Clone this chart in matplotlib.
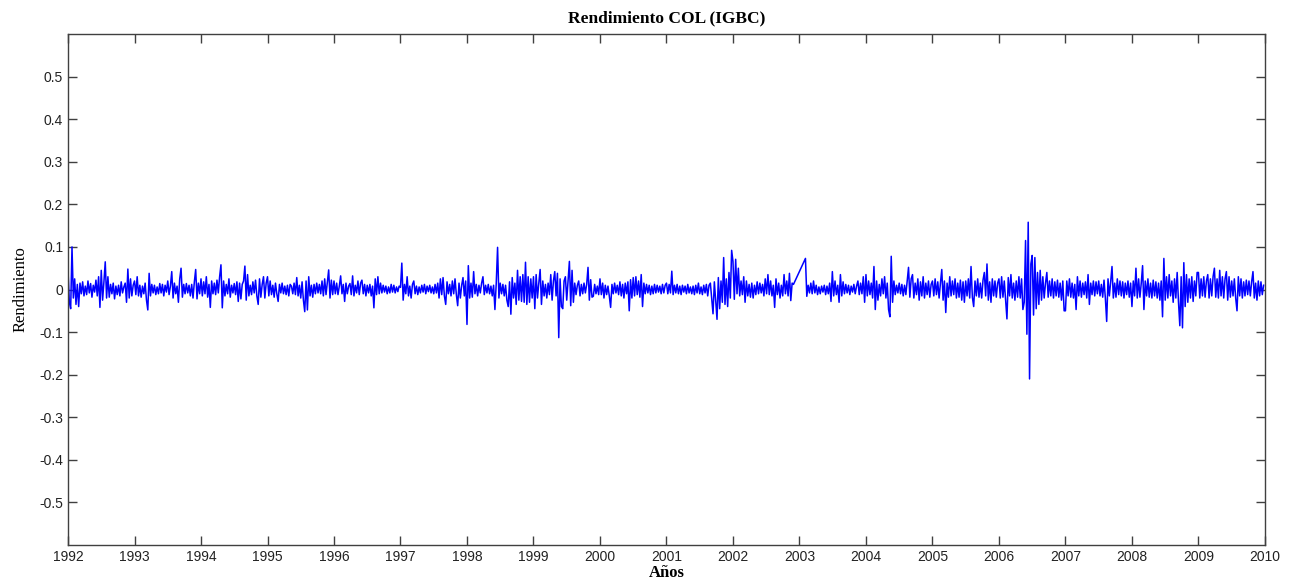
import numpy as np
import matplotlib
matplotlib.use("Agg")
import matplotlib.pyplot as plt
from matplotlib.ticker import FuncFormatter

# daily returns, in thousandths (one list per year)
r1992 = [45, -30, -45, 100, -20, 25, -35, 12, -40, 15, -10, 18, -15, 8, -12, 20, -8, 14, -18, 10,
         -6, 22, -15, 30, -42, 45, -25, 18, 65, -20, 30, -18, 12, -10, 15, -22, 8, -12, 10, -15,
         18, -8, 6, 15, -30, 48, -20, 25, -15, 10]
r1993 = [20, -12, 30, -15, 10, -18, 8, -10, 15, -25, -48, 38, -15, 12, -8, 10, -12, 6, -10, 14,
         -8, 12, -15, 10, -6, 20, -12, 8, 42, -20, 15, -10, 8, -30, 25, 50, -18, 12, -10, 14,
         -8, 10, -15, 12, -20, 18, 47, -22, 15, -10]
r1994 = [25, -15, 18, -10, 30, -18, 12, -42, 20, -10, 15, -12, 22, -8, 30, 58, -43, 20, -15, 12,
         -10, 25, -18, 10, -8, 14, -12, 18, -28, 15, -22, 12, 20, 55, -25, 35, -15, 10, -12, 18,
         -8, 22, -15, -35, 25, -18, 12, 30, -20, 15]
r1995 = [30, -15, 20, -12, 10, -18, 15, -10, -28, 12, -8, 15, -10, 8, -12, 10, -15, 12, 8, -10,
         15, -12, 28, -15, 10, -20, 18, -25, -52, 20, -48, 30, -15, 10, -18, 12, -10, 15, -8, 12,
         -10, 20, -15, 25, -12, 18, 46, -20, 22, -12]
r1996 = [20, -10, 15, -12, 8, 32, -10, 12, -28, 15, -10, 8, 14, -12, 32, -15, 10, -8, 20, -12,
         15, 22, -10, 12, -15, 10, -8, 12, -15, 8, -43, 25, -12, 30, -10, 15, -8, 10, -6, 8,
         -10, 6, -8, 12, -6, 10, -8, 6, -5, 8]
r1997 = [5, 62, -25, 12, -10, 30, -15, 8, -20, 12, 20, -10, 8, -12, 6, -8, 10, -6, 12, -10,
         8, -5, 10, -8, 6, -10, 12, -8, 15, -20, 25, -12, 28, -15, -35, 18, -10, 12, -15, 20,
         -10, 25, -12, -38, 15, -20, 10, 28, -15, 20]
r1998 = [-82, 56, -20, 15, -18, 42, -10, 12, -15, 10, -8, 15, 30, -12, 10, -8, 12, -10, 8, -15,
         10, -47, 15, 99, -20, 15, -10, 12, -15, 10, -25, -40, 18, -58, 28, -20, 15, -35, 45, -25,
         30, -28, 35, -30, 64, -35, 30, -30, 25, -20]
r1999 = [30, -45, 35, -20, 15, 47, -35, 20, -15, 12, -20, 15, -12, 35, -25, 20, 42, -15, 38, -113,
         25, -40, -45, 20, 30, -25, 20, 66, -38, 45, -30, 15, -12, 10, 20, -15, 12, -10, 15, -8,
         12, 52, -25, 23, -18, -16, 12, -10, 8, -12]
r2000 = [25, -12, 15, -20, 10, -12, 8, -15, -42, 12, -10, 15, -8, 10, -12, 18, -15, 12, -20, 15,
         -10, 18, -50, 23, -20, 28, -15, 30, -12, 20, -18, 35, -40, 15, -10, 12, -8, 10, -12, 8,
         -10, 12, -8, 10, -6, 8, -10, 12, -8, 10]
r2001 = [15, -10, 12, -8, 43, -12, 10, -8, 12, -10, 8, -12, 10, -6, 8, -10, 12, -8, 6, -10,
         8, -12, 10, -8, 15, -10, 6, -12, 10, -8, 12, -15, 10, 15, -20, -57, 18, -25, -70, 28,
         -45, 20, -30, 75, -35, 25, -40, 40, -20, 92]
r2002 = [66, -23, 71, -10, 50, -15, 20, -12, 30, -30, 20, -15, 12, -18, 15, -20, 10, -12, 18, -10,
         15, -8, 12, -15, 25, -10, 35, -12, 20, -15, 10, -42, 25, -12, 15, -20, 10, -15, 35, -10,
         20, -15, 38, -26, 15, 12]
r2003 = [73, -16, 10, -8, 15, -10, 20, -8, 10, -12, 6, -10, 8, -6, 10, -12, 8, -10, 15, -28,
         42, -15, 20, -12, 10, -30, 35, -15, 18, -10, 12, -8, 10, -12, 8, -6, 12, -10, 8, 20,
         -12, 15, -10, 30, -30]
r2004 = [35, -15, 20, -12, 15, -20, 54, -47, 20, -25, 12, -15, 25, -10, 30, -20, 15, -47, -64, 78,
         -30, 20, -12, 10, -8, 15, -10, 12, -15, 10, -12, 20, 52, -18, 25, 35, -20, 15, -12, 25,
         -25, 18, -15, 30, -20, 15, -12, 20, -18, 12]
r2005 = [20, -15, 25, -12, 18, -20, 15, 47, -25, 20, -54, 15, -18, 30, -15, 20, -12, 25, -20, 15,
         -18, 22, -25, 18, -30, 20, -15, 25, -20, 54, -18, -40, 20, -15, 25, -18, 15, -20, 22, 40,
         -15, 60, -25, 18, -30, 25, -15, 20, -18, 15]
r2006 = [25, -20, 30, -18, 20, -25, -69, 28, -15, 35, -20, 15, -25, 20, -18, 30, -20, 25, -47, -30,
         115, -105, 158, -210, 60, 80, -60, 75, -45, 40, -35, 45, -25, 30, -20, 15, 40, -18, 20, -15,
         25, -20, 18, -15, 22, -18, 15, -25, 20, -50]
r2007 = [-50, 20, -15, 25, -18, 15, -20, 12, -47, 30, -15, 20, -18, 15, -12, 18, -20, 35, -35, 15,
         -12, 20, -15, 18, -10, 20, -15, 12, -18, 22, -20, -75, 25, -15, 18, 54, -20, 15, -18, 25,
         -12, 20, -15, 18, -20, 15, -12, 20, -18, 15]
r2008 = [-40, 20, -15, 50, -20, 25, -18, 15, 56, -47, 20, -15, 25, -18, 15, -20, 22, -15, 18, -20,
         15, -25, 20, -64, 73, -25, 30, -20, 35, -15, 20, -30, 25, -20, 40, -30, -85, 30, -90, 63,
         -40, 35, -30, 25, -20, 30, -28, 20, -15, 40]
r2009 = [40, -20, 25, -15, 30, -18, 20, 35, -20, 25, -15, 30, 50, -18, 25, -20, 45, -15, 30, -20,
         25, 42, -25, 30, -18, 20, -15, 25, -20, -50, 30, -15, 25, -20, 18, -15, 22, -12, 20, -15,
         18, 42, -20, 15, -25, 20, -15, 18, -12, 10]

years = list(range(1992, 2010))
year_series = [r1992, r1993, r1994, r1995, r1996, r1997, r1998, r1999, r2000,
               r2001, r2002, r2003, r2004, r2005, r2006, r2007, r2008, r2009]
# missing quotes around the 2002/2003 turn of the year
span_start = [y for y in years]
span_end = [y + 1 for y in years]
span_end[years.index(2002)] = 2002.93
span_start[years.index(2003)] = 2003.09

t_all = []
r_all = []
for s, e, vals in zip(span_start, span_end, year_series):
    n = len(vals)
    t_all.append(s + (e - s) * np.arange(n) / n)
    r_all.append(np.array(vals) / 1000.0)
t_all = np.concatenate(t_all)
r_all = np.concatenate(r_all)

fig = plt.figure(figsize=(12.93, 5.8), dpi=100)
ax = fig.add_axes([0.0526, 0.0603, 0.9257, 0.8811])
ax.plot(t_all, r_all, color="#0000ff", lw=1.1)

ax.set_xlim(1992, 2010)
ax.set_ylim(-0.6, 0.6)
ax.set_xticks(range(1992, 2011))
ax.set_yticks(np.round(np.arange(-0.5, 0.51, 0.1), 1))
ax.yaxis.set_major_formatter(FuncFormatter(lambda v, p: "0" if abs(v) < 1e-9 else ("%.1f" % v)))

ax.tick_params(direction="in", top=True, right=True, length=6.5, width=1,
               color="#404040", labelsize=10, labelcolor="#222222")
for lab in ax.get_xticklabels() + ax.get_yticklabels():
    lab.set_family("Liberation Sans")
for sp in ax.spines.values():
    sp.set_color("#404040")
    sp.set_linewidth(1)

ax.set_title("Rendimiento COL (IGBC)", family="Liberation Serif", fontweight="bold",
             fontsize=12.5, pad=8)
ax.set_xlabel("Años", family="Liberation Serif", fontweight="bold", fontsize=12, labelpad=1)
ax.set_ylabel("Rendimiento", family="Liberation Serif", fontsize=12, labelpad=8)

fig.savefig("out.png", dpi=100)
